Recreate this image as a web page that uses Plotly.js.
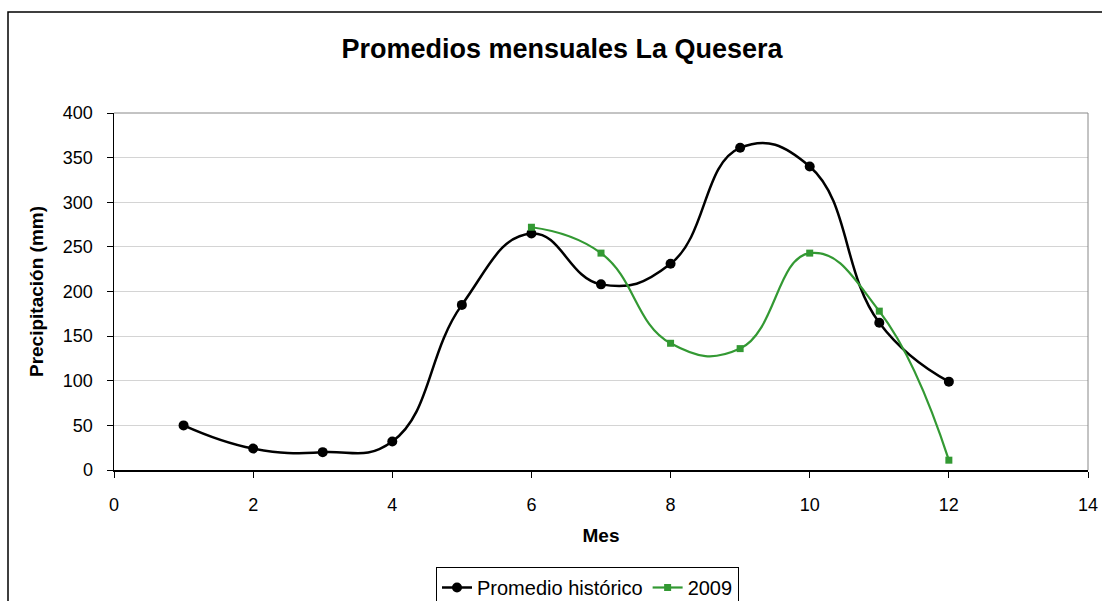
<!DOCTYPE html>
<html>
<head>
<meta charset="utf-8">
<script src="https://cdn.plot.ly/plotly-3.0.1.min.js"></script>
<style>html,body{margin:0;padding:0;background:#fff;}#chart{width:1102px;height:601px;}</style>
</head>
<body>
<div id="chart"></div>
<script>
const meses = [1,2,3,4,5,6,7,8,9,10,11,12];
const promedioHistorico = [50,24,20,32,185,265,208,231,361,340,165,99];
const meses2009 = [6,7,8,9,10,11,12];
const valores2009 = [272,243,142,136,243,178,11];
const xTicks = [0,2,4,6,8,10,12,14];
const yTicks = [0,50,100,150,200,250,300,350,400];

const font = 'Arial, "Liberation Sans", sans-serif';

const traces = [
  {
    x: meses, y: promedioHistorico, name: 'Promedio histórico',
    mode: 'lines+markers', type: 'scatter',
    line: {color: '#000000', width: 2.5, shape: 'spline', smoothing: 1.3},
    marker: {symbol: 'circle', size: 10, color: '#000000'}
  },
  {
    x: meses2009, y: valores2009, name: '2009',
    mode: 'lines+markers', type: 'scatter',
    line: {color: '#339933', width: 2.2, shape: 'spline', smoothing: 1.3},
    marker: {symbol: 'square', size: 7, color: '#339933'}
  }
];

const layout = {
  width: 1102, height: 601,
  margin: {l: 114, r: 14, t: 113, b: 131, autoexpand: false},
  paper_bgcolor: '#ffffff', plot_bgcolor: '#ffffff',
  font: {family: font, size: 17, color: '#000'},
  title: {
    text: '<b>Promedios mensuales La Quesera</b>',
    font: {family: font, size: 27, color: '#000'},
    x: (562-114)/974, xref: 'paper', xanchor: 'center',
    y: 1 - 49/601, yref: 'container', yanchor: 'middle'
  },
  xaxis: {
    range: [0, 14], tickvals: xTicks, ticktext: xTicks.map(String),
    showgrid: false, zeroline: false,
    showline: true, linecolor: '#000', linewidth: 1.5,
    ticks: 'outside', ticklen: 6, tickcolor: '#000',
    tickfont: {family: font, size: 18},
    ticklabelstandoff: 12,
    title: {text: '<b>Mes</b>', font: {family: font, size: 19}, standoff: 14},
    automargin: false
  },
  yaxis: {
    range: [0, 400], tickvals: yTicks, ticktext: yTicks.map(String),
    showgrid: true, gridcolor: '#d4d4d4', gridwidth: 1,
    zeroline: false,
    showline: true, linecolor: '#000', linewidth: 1.5,
    ticks: 'outside', ticklen: 6, tickcolor: '#000',
    tickfont: {family: font, size: 18},
    ticklabelstandoff: 10,
    title: {text: '<b>Precipitación (mm)</b>', font: {family: font, size: 19}, standoff: 14},
    automargin: false
  },
  showlegend: true,
  legend: {
    orientation: 'h', x: (436-114)/974, xanchor: 'left',
    y: 1 - 567/601, yref: 'container', yanchor: 'top',
    bordercolor: '#000', borderwidth: 1, bgcolor: '#fff',
    font: {family: font, size: 20}, tracegroupgap: 0
  },
  shapes: [
    {type: 'line', xref: 'paper', yref: 'paper', x0: 0, x1: 1, y0: 1, y1: 1, line: {color: '#888', width: 1}},
    {type: 'line', xref: 'paper', yref: 'paper', x0: 1, x1: 1, y0: 0, y1: 1, line: {color: '#888', width: 1}},
    {type: 'rect', xref: 'paper', yref: 'paper',
     x0: (8-114)/974, x1: (1110-114)/974, y0: (470-640)/357, y1: (470-12)/357,
     line: {color: '#000', width: 1.5}, fillcolor: 'rgba(0,0,0,0)', layer: 'below'}
  ]
};

Plotly.newPlot('chart', traces, layout, {displayModeBar: false, staticPlot: true});
</script>
</body>
</html>
